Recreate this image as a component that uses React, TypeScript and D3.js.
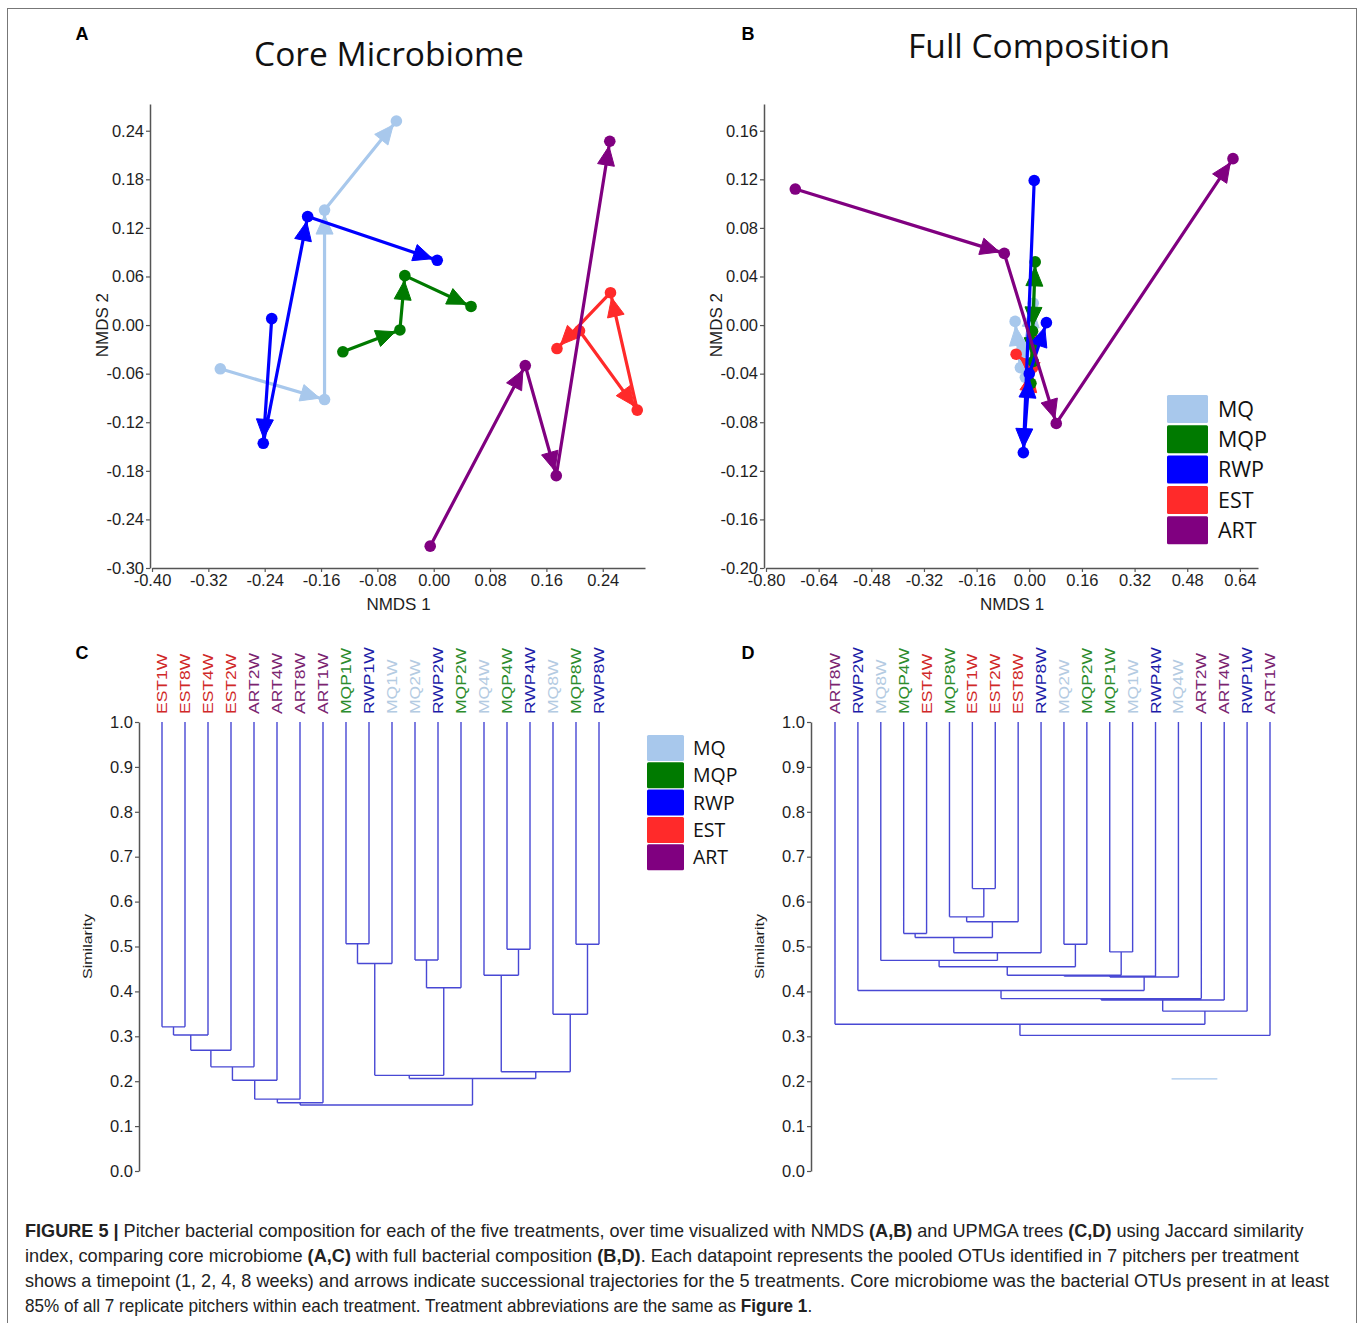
import React, { useEffect, useRef } from 'react'
import * as d3 from 'd3'

// treatments and colours
const treatments = ['MQ', 'MQP', 'RWP', 'EST', 'ART']
const markColors = ['#a8c8ec', '#007a00', '#0000ff', '#ff2a2a', '#800080']
const labelColors = ['#b4cbe2', '#2c8c2c', '#1c1ca8', '#d02828', '#7a2470']

// NMDS coordinates [NMDS1, NMDS2] for 1W, 2W, 4W, 8W
const coreMQ = [[-0.303, -0.054], [-0.155, -0.092], [-0.155, 0.142], [-0.053, 0.252]]
const coreMQP = [[-0.129, -0.033], [-0.048, -0.006], [-0.041, 0.061], [0.053, 0.023]]
const coreRWP = [[-0.230, 0.008], [-0.242, -0.146], [-0.179, 0.134], [0.005, 0.080]]
const coreEST = [[0.207, -0.007], [0.289, -0.105], [0.251, 0.040], [0.175, -0.029]]
const coreART = [[-0.005, -0.273], [0.130, -0.050], [0.174, -0.186], [0.250, 0.227]]

const fullMQ = [[-0.012, -0.043], [0.012, 0.018], [-0.027, -0.035], [-0.043, 0.003]]
const fullMQP = [[0.005, -0.048], [0.018, 0.052], [0.010, -0.005], [0.012, -0.030]]
const fullRWP = [[0.015, 0.119], [-0.018, -0.105], [0.000, -0.040], [0.052, 0.002]]
const fullEST = [[0.012, -0.012], [0.000, -0.050], [0.010, -0.035], [-0.040, -0.024]]
const fullART = [[-0.711, 0.112], [-0.076, 0.059], [0.082, -0.081], [0.619, 0.137]]

const coreXTicks = [-0.40, -0.32, -0.24, -0.16, -0.08, 0.00, 0.08, 0.16, 0.24]
const coreYTicks = [-0.30, -0.24, -0.18, -0.12, -0.06, 0.00, 0.06, 0.12, 0.18, 0.24]
const fullXTicks = [-0.80, -0.64, -0.48, -0.32, -0.16, 0.00, 0.16, 0.32, 0.48, 0.64]
const fullYTicks = [-0.20, -0.16, -0.12, -0.08, -0.04, 0.00, 0.04, 0.08, 0.12, 0.16]

// UPGMA trees: leaves left to right, merges [childA, childB, similarity]
// node ids: leaves 0..19, merge i -> 20 + i
const treeCLeaves = ['EST1W', 'EST8W', 'EST4W', 'EST2W', 'ART2W', 'ART4W', 'ART8W', 'ART1W', 'MQP1W', 'RWP1W',
  'MQ1W', 'MQ2W', 'RWP2W', 'MQP2W', 'MQ4W', 'MQP4W', 'RWP4W', 'MQ8W', 'MQP8W', 'RWP8W']
const treeCMerges = [
  [0, 1, 0.321], [20, 2, 0.303], [21, 3, 0.269], [22, 4, 0.232], [23, 5, 0.202], [24, 6, 0.160], [25, 7, 0.152],
  [8, 9, 0.506], [27, 10, 0.462], [11, 12, 0.470], [29, 13, 0.408], [28, 30, 0.213],
  [15, 16, 0.494], [14, 32, 0.436], [18, 19, 0.505], [17, 34, 0.349], [33, 35, 0.221],
  [31, 36, 0.206], [26, 37, 0.147],
]
const treeDLeaves = ['ART8W', 'RWP2W', 'MQ8W', 'MQP4W', 'EST4W', 'MQP8W', 'EST1W', 'EST2W', 'EST8W', 'RWP8W',
  'MQ2W', 'MQP2W', 'MQP1W', 'MQ1W', 'RWP4W', 'MQ4W', 'ART2W', 'ART4W', 'RWP1W', 'ART1W']
const treeDMerges = [
  [6, 7, 0.629], [5, 20, 0.566], [21, 8, 0.555], [3, 4, 0.529], [23, 22, 0.520], [24, 9, 0.486], [2, 25, 0.469],
  [10, 11, 0.505], [26, 27, 0.455], [12, 13, 0.488], [28, 29, 0.436], [30, 14, 0.434], [31, 15, 0.432],
  [1, 32, 0.402], [33, 16, 0.384], [34, 17, 0.381], [35, 18, 0.356], [0, 36, 0.327], [37, 19, 0.302],
]
const similarityTicks = [0, 0.1, 0.2, 0.3, 0.4, 0.5, 0.6, 0.7, 0.8, 0.9, 1.0]

const captionLines = [
  [['FIGURE 5 | ', true], ['Pitcher bacterial composition for each of the five treatments, over time visualized with NMDS ', false], ['(A,B)', true], [' and UPMGA trees ', false], ['(C,D)', true], [' using Jaccard similarity', false]],
  [['index, comparing core microbiome ', false], ['(A,C)', true], [' with full bacterial composition ', false], ['(B,D)', true], ['. Each datapoint represents the pooled OTUs identified in 7 pitchers per treatment', false]],
  [['shows a timepoint (1, 2, 4, 8 weeks) and arrows indicate successional trajectories for the 5 treatments. Core microbiome was the bacterial OTUs present in at least', false]],
  [['85% of all 7 replicate pitchers within each treatment. Treatment abbreviations are the same as ', false], ['Figure 1', true], ['.', false]],
]
const captionWidths = [1279, 1274, 1305, 788]

const sans = "'Liberation Sans', Arial, sans-serif"
const calibri = "'Open Sans', 'Noto Sans', sans-serif"

function leafColor(name) {
  const t = name.replace(/\dW$/, '')
  return labelColors[treatments.indexOf(t)]
}

function arrowHead(x1, y1, x2, y2, r, len, hw) {
  const d = Math.hypot(x2 - x1, y2 - y1)
  const ux = (x2 - x1) / d
  const uy = (y2 - y1) / d
  const tx = x2 - ux * r
  const ty = y2 - uy * r
  const bx = tx - ux * len
  const by = ty - uy * len
  return `M${tx},${ty}L${bx - uy * hw},${by + ux * hw}L${bx + uy * hw},${by - ux * hw}Z`
}

function styleAxis(a, size) {
  a.select('.domain').attr('stroke', '#555').attr('stroke-width', 1.5)
  a.selectAll('.tick line').attr('stroke', '#555').attr('stroke-width', 1.2)
  a.selectAll('.tick text').attr('fill', '#1e1e1e').style('font-family', sans).style('font-size', size + 'px')
}

function nmdsPanel(svg, o) {
  const x = d3.scaleLinear().domain(o.xDomain).range(o.xRange)
  const y = d3.scaleLinear().domain(o.yDomain).range(o.yRange)
  const g = svg.append('g')

  const xa = g.append('g').attr('transform', `translate(0,${o.yRange[0]})`)
    .call(d3.axisBottom(x).tickValues(o.xTicks).tickFormat((v) => v.toFixed(2)).tickSize(4).tickSizeOuter(0).tickPadding(2))
  styleAxis(xa, 16.5)
  const ya = g.append('g').attr('transform', `translate(${o.xRange[0] - 2},0)`)
    .call(d3.axisLeft(y).tickValues(o.yTicks).tickFormat((v) => v.toFixed(2)).tickSize(4).tickSizeOuter(0).tickPadding(2))
  styleAxis(ya, 16.5)

  g.append('text').attr('x', (o.xRange[0] + o.xRange[1]) / 2).attr('y', o.yRange[0] + 42)
    .attr('text-anchor', 'middle').style('font-family', sans).style('font-size', '17px').attr('fill', '#1e1e1e')
    .text('NMDS 1')
  g.append('text').attr('transform', `translate(${o.xRange[0] - 50},${y(0)}) rotate(-90)`)
    .attr('text-anchor', 'middle').attr('dy', '0.35em').style('font-family', sans).style('font-size', '17px')
    .attr('fill', '#1e1e1e').text('NMDS 2')

  g.append('text').attr('x', o.titleX).attr('y', o.titleY).attr('text-anchor', 'middle')
    .style('font-family', calibri).style('font-size', '33.5px').attr('fill', '#111').text(o.title)
  g.append('text').attr('x', o.letterX).attr('y', 40).attr('text-anchor', 'middle')
    .style('font-family', sans).style('font-size', '18px').style('font-weight', 'bold').text(o.letter)

  o.series.forEach((s) => {
    const c = markColors[treatments.indexOf(s.name)]
    const pts = s.pts.map((p) => [x(p[0]), y(p[1])])
    const sg = g.append('g')
    sg.append('path').attr('d', d3.line()(pts)).attr('fill', 'none').attr('stroke', c)
      .attr('stroke-width', 3.2).attr('stroke-linejoin', 'round')
    for (let i = 1; i < pts.length; i++) {
      sg.append('path').attr('d', arrowHead(pts[i - 1][0], pts[i - 1][1], pts[i][0], pts[i][1], 5, 19, 8.5))
        .attr('fill', c).attr('stroke', c).attr('stroke-width', 1).attr('stroke-linejoin', 'round')
    }
    sg.selectAll('circle').data(pts).enter().append('circle')
      .attr('cx', (d) => d[0]).attr('cy', (d) => d[1]).attr('r', 5.8).attr('fill', c)
  })

  if (o.legend) legend(svg, o.legend)
}

function legend(svg, l) {
  const g = svg.append('g')
  treatments.forEach((t, i) => {
    const top = l.y + i * l.step
    g.append('rect').attr('x', l.x).attr('y', top).attr('width', l.w).attr('height', l.h)
      .attr('fill', markColors[i]).attr('rx', 1.5)
    g.append('text').attr('x', l.x + l.w + l.gap).attr('y', top + l.h / 2).attr('dy', '0.36em')
      .style('font-family', calibri).style('font-size', l.font + 'px').attr('fill', '#111').text(t)
  })
}

function treePanel(svg, o) {
  const x = d3.scalePoint().domain(o.leaves).range(o.xRange)
  const y = d3.scaleLinear().domain([0, 1]).range(o.yRange)
  const g = svg.append('g')

  const ya = g.append('g').attr('transform', `translate(${o.axisX},0)`)
    .call(d3.axisLeft(y).tickValues(similarityTicks).tickFormat((v) => v.toFixed(1)).tickSize(4).tickSizeOuter(0).tickPadding(2))
  styleAxis(ya, 16.5)
  g.append('text').attr('transform', `translate(${o.axisX - 52},${y(0.5)}) rotate(-90) scale(1,0.85)`)
    .attr('text-anchor', 'middle').attr('dy', '0.35em').style('font-family', sans).style('font-size', '16px')
    .attr('fill', '#1e1e1e').text('Similarity')
  g.append('text').attr('x', o.letterX).attr('y', 659).attr('text-anchor', 'middle')
    .style('font-family', sans).style('font-size', '18px').style('font-weight', 'bold').text(o.letter)

  const nodes = o.leaves.map((n) => ({ x: x(n), h: 1 }))
  const p = d3.path()
  o.merges.forEach(([a, b, h]) => {
    const na = nodes[a]
    const nb = nodes[b]
    p.moveTo(na.x, y(na.h)); p.lineTo(na.x, y(h))
    p.moveTo(nb.x, y(nb.h)); p.lineTo(nb.x, y(h))
    p.moveTo(na.x, y(h)); p.lineTo(nb.x, y(h))
    nodes.push({ x: (na.x + nb.x) / 2, h })
  })
  g.append('path').attr('d', p.toString()).attr('fill', 'none').attr('stroke', '#4848d4')
    .attr('stroke-width', 1.4)

  g.selectAll('.leaf').data(o.leaves).enter().append('text')
    .attr('transform', (d) => `translate(${x(d)},${o.yRange[1] - 8}) rotate(-90) scale(1,0.82)`)
    .attr('dy', '0.35em').style('font-family', sans).style('font-size', '17.5px')
    .attr('fill', (d) => leafColor(d)).text((d) => d)

  if (o.stray) {
    const xi = d3.scaleLinear().domain([0, o.leaves.length - 1]).range(o.xRange)
    g.append('line').attr('x1', xi(o.stray[0])).attr('x2', xi(o.stray[1]))
      .attr('y1', y(o.stray[2])).attr('y2', y(o.stray[2])).attr('stroke', '#a8c8ec').attr('stroke-width', 1.3)
  }
  if (o.legend) legend(svg, o.legend)
}

export default function App() {
  const svgRef = useRef(null)

  useEffect(() => {
    const svg = d3.select(svgRef.current)
    svg.selectAll('*').remove()

    svg.append('rect').attr('width', 1358).attr('height', 1323).attr('fill', '#fff')
    svg.append('rect').attr('x', 7.5).attr('y', 8.5).attr('width', 1349).attr('height', 1340)
      .attr('fill', 'none').attr('stroke', '#777').attr('stroke-width', 1)

    nmdsPanel(svg, {
      xDomain: [-0.40, 0.30], xRange: [152, 645], yDomain: [-0.30, 0.273], yRange: [568, 104],
      xTicks: coreXTicks, yTicks: coreYTicks, title: 'Core Microbiome', titleX: 389, titleY: 66,
      letter: 'A', letterX: 82,
      series: [
        { name: 'MQ', pts: coreMQ }, { name: 'RWP', pts: coreRWP }, { name: 'MQP', pts: coreMQP },
        { name: 'EST', pts: coreEST }, { name: 'ART', pts: coreART },
      ],
    })
    nmdsPanel(svg, {
      xDomain: [-0.80, 0.695], xRange: [766, 1258], yDomain: [-0.20, 0.182], yRange: [568, 104],
      xTicks: fullXTicks, yTicks: fullYTicks, title: 'Full Composition', titleX: 1039, titleY: 58,
      letter: 'B', letterX: 748,
      series: [
        { name: 'MQ', pts: fullMQ }, { name: 'EST', pts: fullEST }, { name: 'MQP', pts: fullMQP },
        { name: 'RWP', pts: fullRWP }, { name: 'ART', pts: fullART },
      ],
      legend: { x: 1167, y: 395, w: 41, h: 28, step: 30.3, gap: 10, font: 21.5 },
    })

    treePanel(svg, {
      leaves: treeCLeaves, merges: treeCMerges, xRange: [162, 599], yRange: [1171, 722], axisX: 139,
      letter: 'C', letterX: 82,
      legend: { x: 647, y: 735, w: 37, h: 26, step: 27.3, gap: 9, font: 19.5 },
    })
    treePanel(svg, {
      leaves: treeDLeaves, merges: treeDMerges, xRange: [835, 1270], yRange: [1171, 722], axisX: 811,
      letter: 'D', letterX: 748, stray: [14.7, 16.7, 0.205],
    })

    // caption: natural width measured, then squeezed horizontally to the reference line widths
    captionLines.forEach((line, i) => {
      const row = svg.append('g')
      const t = row.append('text').attr('x', 0).attr('y', 0)
        .style('font-family', sans).style('font-size', '18px').attr('fill', '#222')
      line.forEach(([s, b]) => {
        t.append('tspan').style('font-weight', b ? 'bold' : 'normal').text(s)
      })
      const w = t.node().getComputedTextLength()
      row.attr('transform', `translate(25,${1237 + i * 25}) scale(${captionWidths[i] / w},1)`)
    })
  }, [])

  return (
    <svg ref={svgRef} width={1358} height={1323}
      style={{ position: 'absolute', left: 0, top: 0, display: 'block' }} />
  )
}
